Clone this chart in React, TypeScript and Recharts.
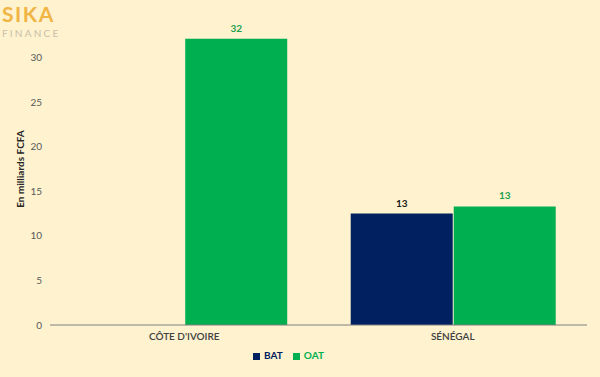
import { BarChart, Bar, XAxis, YAxis, Legend, LabelList, Label } from 'recharts';

const countries = ['CÔTE D\'IVOIRE', 'SÉNÉGAL'];
const batValues: (number | null)[] = [null, 12.5];
const oatValues: (number | null)[] = [32.1, 13.3];
const yTicks = [0, 5, 10, 15, 20, 25, 30];

const NAVY = '#002060';
const GREEN = '#00B050';
const FONT = 'Lato, "Open Sans", sans-serif';

const data = countries.map((name, i) => ({ name, BAT: batValues[i], OAT: oatValues[i] }));

const fmt = (v: any) => (v == null ? '' : Math.round(Number(v)));

export default function App() {
  return (
    <div style={{ position: 'relative', width: 600, height: 377, background: '#FEF2CF', fontFamily: FONT }}>
      <style>{`body{margin:0}`}</style>
      <div style={{ position: 'absolute', left: 2, top: 4 }}>
        <div style={{ color: '#F0B545', fontSize: 21, fontWeight: 700, letterSpacing: 1.5, lineHeight: '20px', height: 20 }}>SIKA</div>
        <div style={{ color: '#C9C0A8', fontSize: 10, letterSpacing: 2.2, lineHeight: '10px', marginTop: 4 }}>FINANCE</div>
      </div>
      <BarChart
        width={600}
        height={377}
        data={data}
        margin={{ top: 13, right: 13, left: 0, bottom: 16 }}
        barCategoryGap="12%"
        barGap={1}
      >
        <XAxis
          dataKey="name"
          tickLine={false}
          axisLine={{ stroke: '#7F7F7F' }}
          tick={{ fill: '#404040', fontSize: 10, fontWeight: 600, fontFamily: FONT }}
          height={24}
        />
        <YAxis
          width={50}
          domain={[0, 35]}
          ticks={yTicks}
          tickLine={false}
          axisLine={false}
          tick={{ fill: '#595959', fontSize: 10, fontFamily: FONT }}
        >
          <Label
            value="En milliards FCFA"
            angle={-90}
            position="insideLeft"
            offset={20}
            style={{ fill: '#262626', fontSize: 10, fontWeight: 700, textAnchor: 'middle', fontFamily: FONT }}
          />
        </YAxis>
        <Legend
          verticalAlign="bottom"
          iconType="square"
          iconSize={7}
          wrapperStyle={{ fontSize: 10, fontWeight: 700, fontFamily: FONT }}
        />
        <Bar dataKey="BAT" fill={NAVY} isAnimationActive={false}>
          <LabelList dataKey="BAT" position="top" offset={7} formatter={fmt} style={{ fill: '#1a1a1a', fontSize: 10, fontWeight: 700 }} />
        </Bar>
        <Bar dataKey="OAT" fill={GREEN} isAnimationActive={false}>
          <LabelList dataKey="OAT" position="top" offset={7} formatter={fmt} style={{ fill: '#1FA050', fontSize: 10, fontWeight: 700 }} />
        </Bar>
      </BarChart>
    </div>
  );
}
